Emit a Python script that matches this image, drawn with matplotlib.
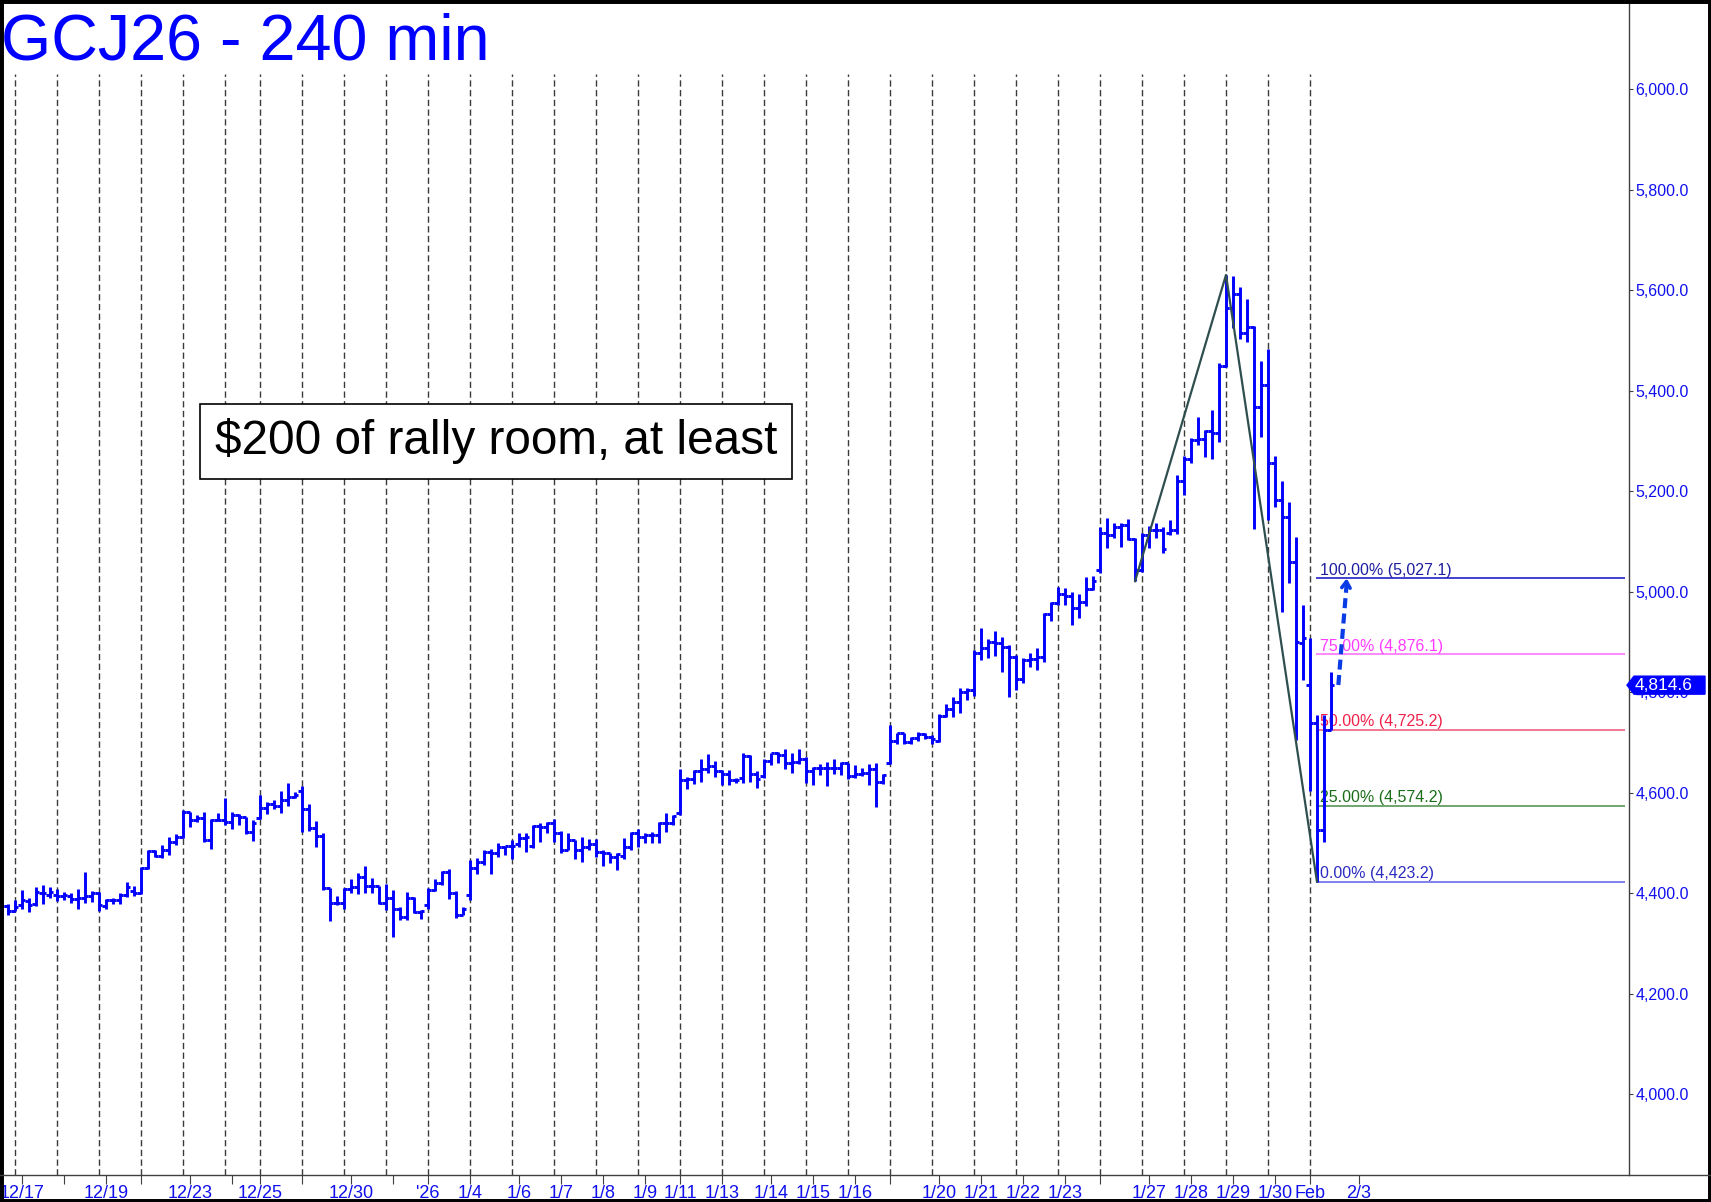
import matplotlib
matplotlib.use("Agg")
import numpy as np
import matplotlib.pyplot as plt
import matplotlib.transforms as mtransforms
from matplotlib.collections import LineCollection
from matplotlib.patches import Polygon, Rectangle
from matplotlib.lines import Line2D

plt.rcParams['font.family'] = ['Liberation Sans', 'DejaVu Sans']

# --- dados: barras de 240 min (OHLC) -------------------------------------
opens = [
    4374, 4375, 4366, 4377, 4385, 4379, 4400, 4397, 4398, 4395,
    4395, 4390, 4392, 4395, 4400, 4375, 4388, 4387, 4397, 4405,
    4401, 4450, 4485, 4475, 4487, 4503, 4512, 4563, 4546, 4550,
    4506, 4546, 4546, 4543, 4556, 4552, 4523, 4550, 4570, 4578,
    4574, 4586, 4593, 4603, 4568, 4530, 4515, 4410, 4382, 4382,
    4408, 4412, 4433, 4415, 4414, 4382, 4392, 4370, 4354, 4392,
    4364, 4377, 4407, 4420, 4443, 4400, 4357, 4397, 4450, 4463,
    4483, 4480, 4493, 4495, 4498, 4510, 4495, 4534, 4532, 4541,
    4521, 4487, 4507, 4487, 4493, 4499, 4483, 4480, 4473, 4475,
    4493, 4521, 4513, 4517, 4517, 4540, 4540, 4561, 4625, 4627,
    4643, 4647, 4654, 4643, 4638, 4626, 4629, 4674, 4638, 4633,
    4664, 4680, 4676, 4659, 4662, 4667, 4643, 4649, 4649, 4649,
    4649, 4659, 4634, 4638, 4639, 4647, 4621, 4660, 4704, 4719,
    4702, 4709, 4718, 4712, 4704, 4753, 4768, 4782, 4800, 4805,
    4878, 4888, 4901, 4898, 4890, 4871, 4826, 4865, 4866, 4871,
    4956, 4979, 4996, 4992, 4968, 4981, 5005, 5044, 5118, 5114,
    5130, 5133, 5105, 5044, 5113, 5123, 5123, 5118, 5123, 5220,
    5264, 5302, 5304, 5321, 5317, 5450, 5566, 5594, 5516, 5527,
    5369, 5412, 5256, 5184, 5150, 5060, 4899, 4815, 4740, 4526,
    4725,
]
highs = [
    4379, 4379, 4388, 4407, 4392, 4412, 4416, 4412, 4408, 4402,
    4400, 4409, 4442, 4404, 4402, 4390, 4392, 4400, 4422, 4414,
    4453, 4487, 4487, 4497, 4512, 4518, 4566, 4563, 4556, 4563,
    4548, 4560, 4591, 4563, 4558, 4553, 4546, 4596, 4583, 4587,
    4603, 4619, 4601, 4613, 4578, 4544, 4521, 4410, 4395, 4410,
    4428, 4441, 4455, 4430, 4414, 4419, 4407, 4374, 4402, 4394,
    4368, 4410, 4428, 4445, 4448, 4404, 4374, 4467, 4470, 4487,
    4488, 4501, 4495, 4506, 4521, 4520, 4536, 4540, 4543, 4548,
    4525, 4520, 4507, 4512, 4508, 4508, 4487, 4481, 4481, 4510,
    4523, 4528, 4521, 4522, 4543, 4561, 4556, 4647, 4631, 4645,
    4667, 4678, 4664, 4645, 4646, 4629, 4680, 4676, 4643, 4667,
    4680, 4682, 4687, 4680, 4687, 4672, 4652, 4658, 4662, 4667,
    4662, 4660, 4656, 4649, 4658, 4660, 4638, 4735, 4720, 4720,
    4712, 4722, 4719, 4716, 4757, 4778, 4791, 4808, 4808, 4885,
    4928, 4906, 4922, 4911, 4894, 4875, 4868, 4878, 4888, 4959,
    4980, 5009, 5007, 4999, 4996, 5029, 5032, 5130, 5147, 5138,
    5137, 5145, 5107, 5117, 5131, 5138, 5129, 5143, 5233, 5271,
    5306, 5349, 5322, 5363, 5455, 5631, 5629, 5606, 5584, 5529,
    5460, 5483, 5271, 5220, 5180, 5109, 4974, 4908, 4755, 4755,
    4841,
]
lows = [
    4370, 4357, 4366, 4370, 4364, 4375, 4380, 4392, 4386, 4388,
    4382, 4369, 4382, 4384, 4366, 4370, 4379, 4379, 4394, 4395,
    4399, 4448, 4473, 4470, 4477, 4497, 4510, 4533, 4543, 4503,
    4488, 4545, 4536, 4528, 4536, 4518, 4505, 4548, 4558, 4568,
    4561, 4574, 4591, 4523, 4525, 4493, 4407, 4346, 4377, 4370,
    4400, 4399, 4400, 4400, 4380, 4367, 4314, 4347, 4347, 4361,
    4349, 4370, 4405, 4417, 4390, 4351, 4357, 4387, 4439, 4457,
    4438, 4473, 4477, 4468, 4493, 4483, 4490, 4503, 4520, 4503,
    4481, 4487, 4468, 4463, 4487, 4473, 4454, 4460, 4446, 4468,
    4487, 4493, 4500, 4500, 4500, 4523, 4536, 4556, 4607, 4617,
    4621, 4640, 4631, 4616, 4615, 4619, 4619, 4621, 4609, 4629,
    4655, 4660, 4647, 4639, 4657, 4619, 4616, 4636, 4614, 4638,
    4636, 4627, 4629, 4634, 4616, 4572, 4618, 4658, 4697, 4698,
    4698, 4704, 4707, 4698, 4702, 4752, 4752, 4760, 4786, 4793,
    4865, 4868, 4873, 4840, 4792, 4805, 4818, 4850, 4844, 4860,
    4943, 4974, 4974, 4934, 4948, 4972, 5003, 5037, 5087, 5107,
    5089, 5104, 5021, 5040, 5087, 5107, 5078, 5113, 5115, 5193,
    5256, 5293, 5269, 5264, 5299, 5448, 5525, 5503, 5498, 5125,
    5309, 5143, 5170, 4961, 5017, 4705, 4825, 4603, 4423, 4503,
    4725,
]
closes = [
    4375, 4366, 4374, 4388, 4377, 4402, 4400, 4403, 4395, 4397,
    4390, 4392, 4395, 4400, 4377, 4388, 4387, 4397, 4412, 4400,
    4450, 4485, 4475, 4487, 4503, 4513, 4563, 4546, 4550, 4506,
    4546, 4546, 4543, 4556, 4552, 4523, 4540, 4570, 4578, 4574,
    4586, 4593, 4597, 4568, 4530, 4515, 4410, 4382, 4382, 4408,
    4412, 4433, 4415, 4414, 4382, 4392, 4370, 4354, 4392, 4364,
    4366, 4407, 4420, 4443, 4400, 4357, 4370, 4450, 4463, 4483,
    4480, 4493, 4495, 4495, 4510, 4512, 4534, 4532, 4541, 4521,
    4487, 4507, 4487, 4493, 4499, 4483, 4480, 4473, 4479, 4493,
    4521, 4513, 4517, 4517, 4540, 4540, 4554, 4625, 4627, 4643,
    4647, 4654, 4643, 4638, 4626, 4626, 4674, 4638, 4627, 4664,
    4680, 4676, 4659, 4662, 4667, 4643, 4649, 4649, 4649, 4649,
    4659, 4634, 4638, 4639, 4647, 4621, 4636, 4704, 4719, 4702,
    4709, 4718, 4712, 4707, 4753, 4768, 4782, 4800, 4805, 4878,
    4888, 4901, 4898, 4890, 4871, 4826, 4865, 4866, 4871, 4956,
    4979, 4996, 4992, 4968, 4981, 5005, 5021, 5118, 5114, 5130,
    5133, 5105, 5044, 5113, 5123, 5123, 5085, 5123, 5220, 5264,
    5302, 5304, 5321, 5317, 5450, 5566, 5594, 5516, 5528, 5369,
    5412, 5256, 5184, 5150, 5060, 4901, 4908, 4740, 4526, 4725,
    4814.6,
]

# índice da primeira barra de cada sessão (linhas tracejadas)
day_starts = [2, 8, 14, 20, 26, 32, 37, 43, 49, 55, 61, 67, 73, 79, 85, 91,
              97, 103, 109, 115, 121, 127, 133, 139, 145, 151, 157, 163,
              169, 175, 181, 187]

tick_pos = [3, 9, 15, 20, 27, 33, 37, 43, 50, 56, 61, 67, 74, 80, 86, 92, 97,
            103, 110, 116, 122, 127, 134, 140, 146, 152, 157, 164, 170, 176,
            182, 187, 194]
tick_labels = ['12/17', '', '12/19', '', '12/23', '', '12/25', '', '12/30', '',
               "'26", '1/4', '1/6', '1/7', '1/8', '1/9', '1/11', '1/13', '1/14',
               '1/15', '1/16', '', '1/20', '1/21', '1/22', '1/23', '', '1/27',
               '1/28', '1/29', '1/30', 'Feb', '2/3']

price_ticks = [4000, 4200, 4400, 4600, 4800, 5000, 5200, 5400, 5600, 5800, 6000]

# retração de Fibonacci
fib_pcts = [0.0, 25.0, 50.0, 75.0, 100.0]
fib_values = [4423.2, 4574.2, 4725.2, 4876.1, 5027.1]
fib_text_colors = ['#2B2BC0', '#1A6E1A', '#F0204A', '#FF3CFF', '#1E1EA0']
fib_line_colors = ['#8080EE', '#6FA56F', '#F07890', '#FF88FF', '#4040D0']

# pivôs da linha de tendência (índices de barra)
pivots = [162, 175, 188]

# seta tracejada de alvo
arrow_from = (191.05, 4815.0)
arrow_to = (192.24, 5027.1)

BLUE = '#0000FF'
AXIS_GRAY = '#404040'

W, H = 1711, 1202
fig = plt.figure(figsize=(W / 100, H / 100), dpi=100)
fig.patch.set_facecolor('white')
ax = fig.add_axes([0, 1 - 1175 / H, 1629 / W, 1175 / H])

y_bottom, y_top = 3839.8, 6178.1
sep_top = 6030.8

# linhas separadoras de sessão
ax.vlines(day_starts, y_bottom, sep_top, colors='#3a3a3a',
          linestyles=(0, (4.5, 2.5)), linewidth=1.0, zorder=1)

# níveis de Fibonacci
fib_x0, fib_x1, fib_tx = 187.9, 232.0, 188.5
ax.hlines(fib_values, fib_x0, fib_x1, colors=fib_line_colors, linewidth=1.4, zorder=2)
for pct, val, tc in zip(fib_pcts, fib_values, fib_text_colors):
    ax.annotate(f"{pct:.2f}% ({val:,.1f})", (fib_tx, val), xytext=(0, 0.5),
                textcoords='offset points', ha='left', va='bottom',
                color=tc, fontsize=11.5, zorder=3)

# barras OHLC
x = np.arange(len(closes))
t = 0.5
segs = []
for i in x:
    hi = max(highs[i], opens[i], closes[i])
    lo = min(lows[i], opens[i], closes[i])
    segs.append([(i, lo), (i, hi)])
    segs.append([(i - t, opens[i]), (i, opens[i])])
    segs.append([(i, closes[i]), (i + t, closes[i])])
ax.add_collection(LineCollection(segs, colors=BLUE, linewidths=2.1,
                                 capstyle='butt', zorder=4))

# linha de tendência
px = pivots
py = [lows[pivots[0]], highs[pivots[1]], lows[pivots[2]]]
ax.plot(px, py, color='#2F4F4F', lw=1.6, zorder=5, solid_capstyle='round')

# seta tracejada
ARROW = '#0A3CE6'
ax.plot([arrow_from[0], arrow_to[0]], [arrow_from[1], arrow_to[1] - 10],
        color=ARROW, lw=3.0, ls=(0, (2.4, 1.3)), zorder=6)
dx = arrow_to[0] - arrow_from[0]
dy = arrow_to[1] - arrow_from[1]
ax.annotate('', xy=arrow_to, xytext=(arrow_to[0] - dx * 0.05, arrow_to[1] - dy * 0.05),
            arrowprops=dict(arrowstyle='->,head_length=0.45,head_width=0.3',
                            lw=2.6, color=ARROW, shrinkA=0, shrinkB=0), zorder=6)

# eixos
ax.set_xlim(-1 / 7, (1629 - 1) / 7)
ax.set_ylim(y_bottom, y_top)
for s in ('top', 'left', 'bottom'):
    ax.spines[s].set_visible(False)
ax.spines['right'].set_color(AXIS_GRAY)
ax.spines['right'].set_linewidth(1.0)

ax.yaxis.tick_right()
ax.set_yticks(price_ticks)
ax.set_yticklabels([f"{v:,.1f}" for v in price_ticks])
ax.tick_params(axis='y', direction='out', length=3, width=0.8, color=AXIS_GRAY,
               pad=1.5, labelcolor='#1010EE', labelsize=11.5)

ax.set_xticks(tick_pos)
ax.set_xticklabels(tick_labels, fontfamily=['Liberation Sans Narrow', 'Liberation Sans'])
ax.tick_params(axis='x', direction='out', length=6.5, width=0.8, color=AXIS_GRAY,
               pad=0.5, labelcolor='#1010EE', labelsize=13)

# linha do eixo x por toda a largura
y_ax = 1 - 1175 / H
fig.add_artist(Line2D([0, 1], [y_ax, y_ax], transform=fig.transFigure,
                      color=AXIS_GRAY, lw=1.0))

# etiqueta do último preço
last = closes[-1]
trans = mtransforms.blended_transform_factory(fig.transFigure, ax.transData)
hh = 9.0 / 0.5025
poly = Polygon([(1627 / W, last), (1634 / W, last + hh), (1705 / W, last + hh),
                (1705 / W, last - hh), (1634 / W, last - hh)], closed=True,
               transform=trans, facecolor=BLUE, edgecolor=BLUE, clip_on=False, zorder=10)
ax.add_artist(poly)
ax.text(1635 / W, last, f"{last:,.1f}", transform=trans, color='white', fontsize=12.5,
        ha='left', va='center', zorder=11, clip_on=False)

# título e caixa de texto
fig.text(1 / W, 1 - 60 / H, "GCJ26 - 240 min", fontsize=46.5, color=BLUE,
         ha='left', va='baseline')
fig.text(496 / W, 1 - 441.5 / H, "$200 of rally room, at least", fontsize=34.4,
         color='black', ha='center', va='center', parse_math=False,
         bbox=dict(boxstyle='square,pad=0.3', fc='white', ec='black', lw=1.2))

# moldura preta
fig.add_artist(Rectangle((0, 0), 1, 1, transform=fig.transFigure, fill=False,
                         edgecolor='black', lw=5))

fig.savefig("out.png", dpi=100)
